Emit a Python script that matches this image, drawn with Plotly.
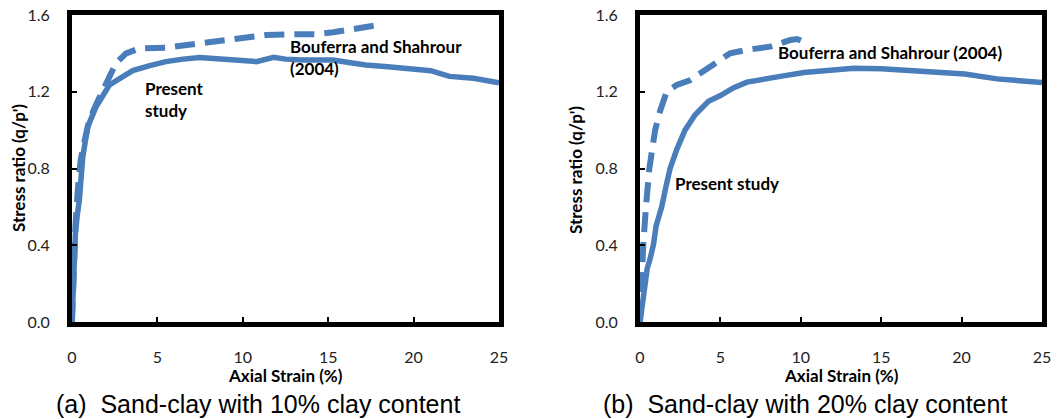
import plotly.graph_objects as go

# ---- Data: panel (a) 10% clay ----
a_present_x = [0, 0.05, 0.1, 0.2, 0.3, 0.43, 0.63, 0.92, 1.4, 2.19, 3.0, 3.56, 4.5, 5.5, 6.5, 7.47, 8.5, 9.5, 10.8, 11.8, 12.5, 13.5, 15.3, 16.2, 17.2, 18.5, 20.2, 21.0, 22.1, 23.5, 25.0]
a_present_y = [0, 0.11, 0.3, 0.46, 0.55, 0.635, 0.86, 1.017, 1.12, 1.235, 1.28, 1.31, 1.335, 1.357, 1.37, 1.379, 1.372, 1.365, 1.357, 1.379, 1.37, 1.365, 1.365, 1.352, 1.339, 1.33, 1.313, 1.31, 1.28, 1.27, 1.247]
a_bouf_x = [0, 0.1, 0.2, 0.35, 0.5, 0.7, 0.86, 1.0, 1.5, 2.0, 2.58, 3.17, 3.95, 5.5, 7.5, 9.4, 11.4, 13.3, 14.3, 15.3, 16.3, 17.2, 18.1]
a_bouf_y = [0, 0.3, 0.5, 0.7, 0.84, 0.93, 0.98, 1.05, 1.15, 1.25, 1.35, 1.40, 1.426, 1.43, 1.45, 1.473, 1.496, 1.50, 1.50, 1.51, 1.525, 1.543, 1.55]

# ---- Data: panel (b) 20% clay ----
b_present_x = [0, 0.15, 0.3, 0.45, 0.6, 0.83, 1.0, 1.35, 1.6, 1.87, 2.29, 2.8, 3.43, 4.26, 5.0, 5.8, 6.65, 7.5, 8.73, 10.2, 11.85, 13.3, 15.0, 16.4, 18.1, 20.2, 22.2, 25.0]
b_present_y = [0, 0.1, 0.22, 0.28, 0.32, 0.4, 0.5, 0.6, 0.7, 0.8, 0.9, 1.0, 1.08, 1.15, 1.18, 1.22, 1.25, 1.265, 1.28, 1.30, 1.31, 1.322, 1.32, 1.314, 1.305, 1.293, 1.267, 1.248]
b_bouf_x = [0, 0.1, 0.2, 0.37, 0.58, 0.94, 1.25, 1.66, 2.29, 3.1, 3.95, 4.78, 5.6, 6.65, 8.1, 9.36, 9.77, 10.2]
b_bouf_y = [0, 0.28, 0.4, 0.6, 0.8, 1.0, 1.1, 1.2, 1.236, 1.26, 1.305, 1.357, 1.40, 1.418, 1.435, 1.47, 1.475, 1.46]

x_ticks = [0, 5, 10, 15, 20, 25]
y_ticks = [0.0, 0.4, 0.8, 1.2, 1.6]
y_tick_text = ["0.0", "0.4", "0.8", "1.2", "1.6"]

captions = ["(a)  Sand-clay with 10% clay content", "(b)  Sand-clay with 20% clay content"]

BLUE = "#4a7ebb"
W, H = 1060, 419

fig = go.Figure()

def add_panel(xa, ya, px, py, bx, by):
    fig.add_trace(go.Scatter(x=bx, y=by, mode="lines", xaxis=xa, yaxis=ya,
                             line=dict(color=BLUE, width=6, dash="20px,10px"), showlegend=False))
    fig.add_trace(go.Scatter(x=px, y=py, mode="lines", xaxis=xa, yaxis=ya,
                             line=dict(color=BLUE, width=5.5), showlegend=False))

add_panel("x", "y", a_present_x, a_present_y, a_bouf_x, a_bouf_y)
add_panel("x2", "y2", b_present_x, b_present_y, b_bouf_x, b_bouf_y)

tickfont = dict(family="Lato, Open Sans, sans-serif", size=16, color="#222")
common_x = dict(range=[0, 25], tickvals=x_ticks, ticks="inside", ticklen=5, tickwidth=2,
                tickcolor="black", showline=True, linewidth=5, linecolor="black", mirror=True,
                showgrid=False, zeroline=False, tickfont=tickfont, ticklabelstandoff=17,
                automargin=False)
common_y = dict(range=[0, 1.6], tickvals=y_ticks, ticktext=y_tick_text, ticks="inside", ticklen=5,
                tickwidth=2, tickcolor="black", showline=True, linewidth=5, linecolor="black",
                mirror=True, showgrid=False, zeroline=False, tickfont=tickfont, ticklabelstandoff=14,
                automargin=False)

ybot, ytop = 1 - 322 / H, 1 - 15 / H
fig.update_layout(
    width=W, height=H, margin=dict(l=0, r=0, t=0, b=0, autoexpand=False),
    paper_bgcolor="white", plot_bgcolor="white",
    xaxis=dict(domain=[72 / W, 499 / W], anchor="y", **common_x),
    yaxis=dict(domain=[ybot, ytop], anchor="x", **common_y),
    xaxis2=dict(domain=[640 / W, 1042 / W], anchor="y2", **common_x),
    yaxis2=dict(domain=[ybot, ytop], anchor="x2", **common_y),
)

bold = dict(family="Lato, Open Sans, sans-serif", size=17, color="black")
ann = []
# axis titles
for cx, cy in [(18, 168), (575, 170)]:
    ann.append(dict(text="<b>Stress ratio (q/p')</b>", x=cx / W, y=1 - cy / H, xref="paper", yref="paper",
                    showarrow=False, textangle=-90, font=bold, xanchor="center", yanchor="middle"))
for cx in [285.5, 841]:
    ann.append(dict(text="<b>Axial Strain (%)</b>", x=cx / W, y=1 - 375 / H, xref="paper", yref="paper",
                    showarrow=False, font=bold, xanchor="center", yanchor="middle"))
# captions
for cx, txt in zip([258, 805], captions):
    ann.append(dict(text=txt, x=cx / W, y=1 - 404 / H, xref="paper", yref="paper", showarrow=False,
                    font=dict(family="Liberation Sans, Arial, sans-serif", size=25, color="black"),
                    xanchor="center", yanchor="middle"))
# in-plot labels (data coordinates)
ann.append(dict(text="<b>Bouferra and Shahrour<br>(2004)</b>", x=12.65, y=1.376, xref="x", yref="y",
                showarrow=False, font=bold, xanchor="left", yanchor="middle", align="left"))
ann.append(dict(text="<b>Present<br>study</b>", x=4.16, y=1.16, xref="x", yref="y",
                showarrow=False, font=bold, xanchor="left", yanchor="middle", align="left"))
ann.append(dict(text="<b>Bouferra and Shahrour (2004)</b>", x=8.46, y=1.402, xref="x2", yref="y2",
                showarrow=False, font=bold, xanchor="left", yanchor="middle", align="left"))
ann.append(dict(text="<b>Present study</b>", x=2.05, y=0.724, xref="x2", yref="y2",
                showarrow=False, font=bold, xanchor="left", yanchor="middle", align="left"))
fig.update_layout(annotations=ann)

fig.write_html("out.html")
